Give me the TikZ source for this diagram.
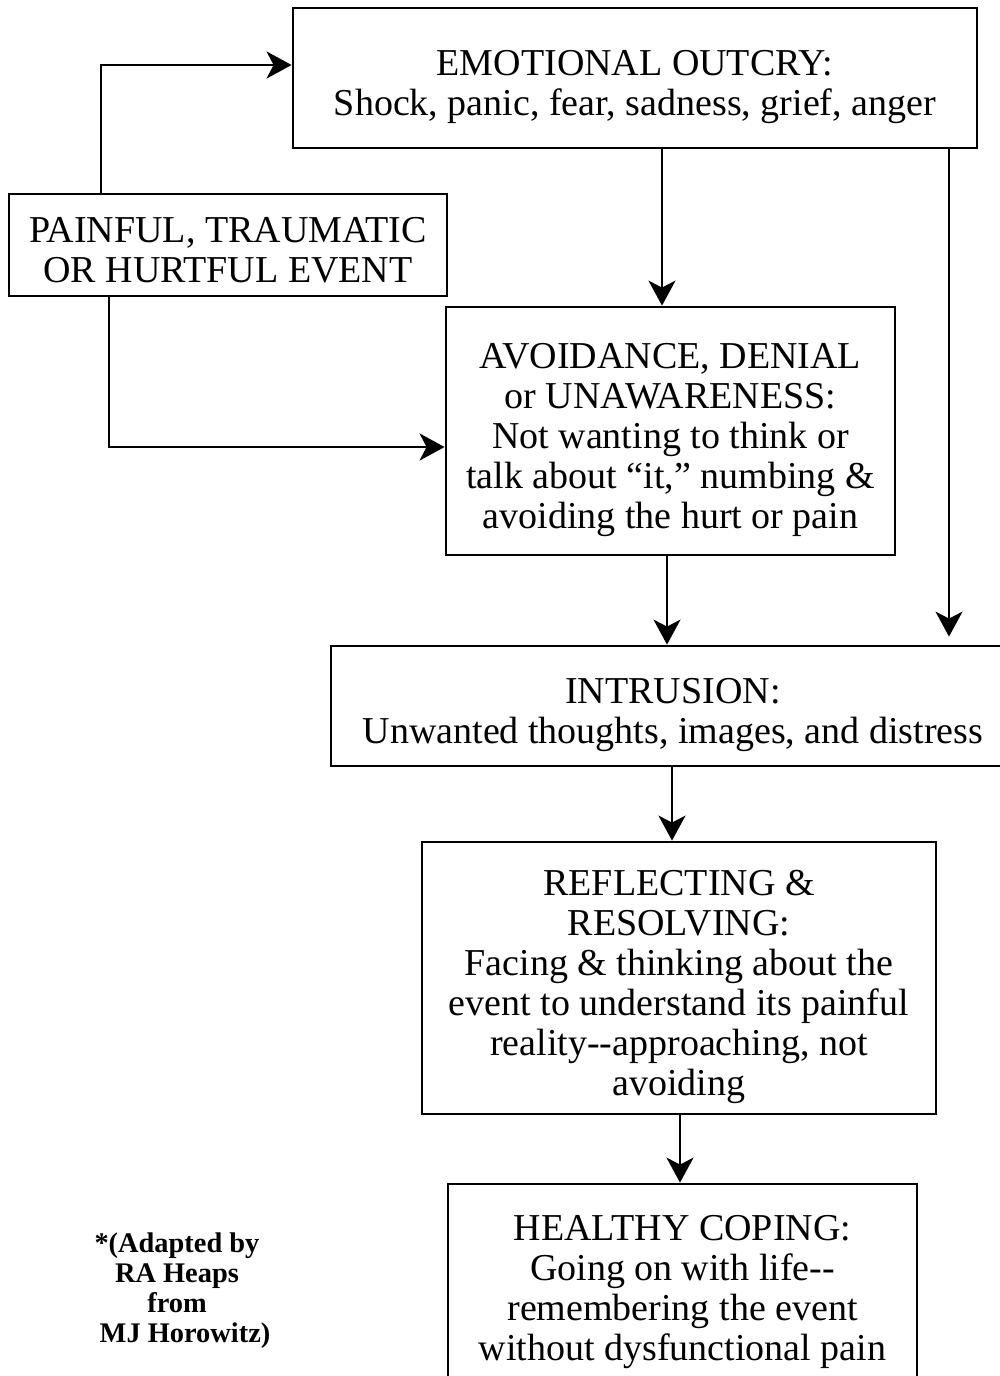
\documentclass[tikz,border=0pt]{standalone}
\usepackage{fontspec}
\setmainfont{Liberation Serif}[Ligatures=TeXOff]
\usetikzlibrary{arrows.meta,calc}
\newcommand\tstrut[1][22pt]{\rule{0pt}{#1}}
\begin{document}
\begin{tikzpicture}[x=0.5pt,y=-0.5pt,
  box/.style={draw,line width=1.4pt,inner sep=0pt,align=center,
    font=\fontsize{19}{20}\selectfont},
  arr/.style={line width=1.4pt,-{Stealth[length=12.5pt,width=13.5pt,inset=3.5pt]}},
  note/.style={align=center,font=\bfseries\fontsize{14.2}{15}\selectfont}]
\useasboundingbox (0,0) rectangle (1000,1376);
\node[box,minimum width=342pt,minimum height=70pt] (emo) at (635,78)
  {\tstrut EMOTIONAL OUTCRY:\\Shock, panic, fear, sadness, grief, anger};
\node[box,minimum width=219pt,minimum height=51pt] (pain) at (228,245)
  {\tstrut[18pt]PAINFUL, TRAUMATIC\\OR HURTFUL EVENT};
\node[box,minimum width=224.5pt,minimum height=124pt] (avoid) at (670.5,431)
  {\tstrut AVOIDANCE, DENIAL\\or UNAWARENESS:\\Not wanting to think or\\talk about “it,” numbing \&\\avoiding the hurt or pain};
\node[box,minimum width=342pt,minimum height=60pt] (intr) at (673,706)
  {\tstrut INTRUSION:\\Unwanted thoughts, images, and distress};
\node[box,minimum width=257pt,minimum height=136pt] (refl) at (679,978)
  {\tstrut REFLECTING \&\\RESOLVING:\\Facing \& thinking about the\\event to understand its painful\\reality--approaching, not\\avoiding};
\node[box,minimum width=234.5pt,minimum height=100pt] (heal) at (682.5,1284)
  {\tstrut[21pt]HEALTHY COPING:\\Going on with life--\\remembering the event\\without dysfunctional pain};
\node[note] (src) at (177,1291) {*(Adapted by\\RA Heaps\\from\\\hspace*{8pt}MJ Horowitz)};
\coordinate (xa) at (101,0);
\coordinate (ya) at (0,65);
\coordinate (xb) at (109,0);
\coordinate (yb) at (0,447);
\coordinate (xc) at (662,0);
\coordinate (xd) at (949,0);
\coordinate (xe) at (667,0);
\coordinate (xf) at (672,0);
\coordinate (xg) at (680,0);
\draw[arr] (pain.north -| xa) |- (emo.west |- ya);
\draw[arr] (pain.south -| xb) |- (avoid.west |- yb);
\draw[arr] (emo.south -| xc) -- (avoid.north -| xc);
\draw[arr] (emo.south -| xd) -- ([yshift=4pt]intr.north -| xd);
\draw[arr] (avoid.south -| xe) -- (intr.north -| xe);
\draw[arr] (intr.south -| xf) -- (refl.north -| xf);
\draw[arr] (refl.south -| xg) -- (heal.north -| xg);
\end{tikzpicture}
\end{document}
